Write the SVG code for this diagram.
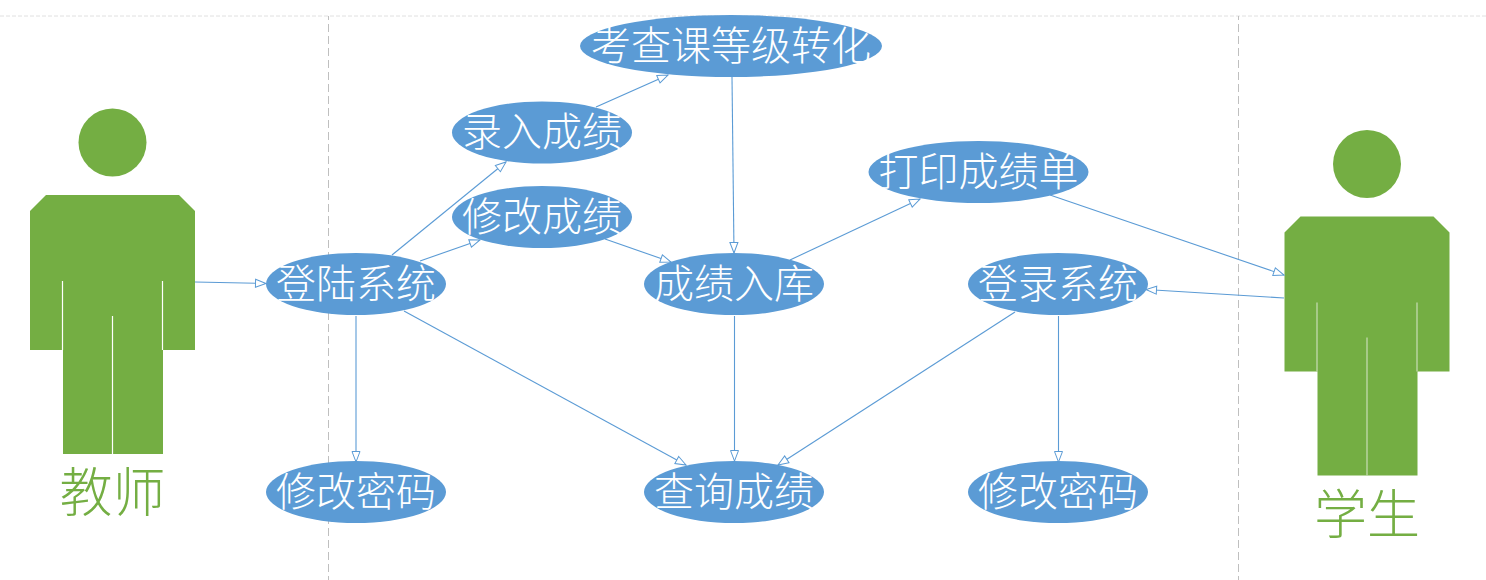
<svg xmlns="http://www.w3.org/2000/svg" width="1486" height="580" viewBox="0 0 1486 580">
<style>
.guide{fill:none;stroke:#bfbfbf;stroke-width:1;stroke-dasharray:8 4;stroke-dashoffset:4}
.top{fill:none;stroke:#e0e0e0;stroke-width:1;stroke-dasharray:4 2}
.c{fill:none;stroke:#5b9bd5;stroke-width:1.1;marker-end:url(#a)}
.uc{fill:#5b9bd5}
.ut{fill:#fff;font-family:"Noto Sans CJK SC",sans-serif;font-weight:300;font-size:40px;text-anchor:middle}
.p{fill:#74ae43}
.s{fill:none;stroke:#fff;stroke-width:1.2}
.s2{fill:none;stroke:#c9dcb6;stroke-width:1.2}
.pt{fill:#74ae43;font-family:"Noto Sans CJK SC",sans-serif;font-weight:300;font-size:53px;text-anchor:middle}
</style>
<defs>
<marker id="a" markerUnits="userSpaceOnUse" markerWidth="14" markerHeight="12" refX="11" refY="4.500" orient="auto" overflow="visible">
<path d="M0.500 0.500L11 4.500L0.500 8.500Z" fill="#fff" stroke="#5b9bd5" stroke-width="1"/>
</marker>
</defs>
<rect width="1486" height="580" fill="#fff"/>
<g id="guides">
<path class="top" d="M0 16H1486"/>
<path class="guide" d="M328.500 16V580"/>
<path class="guide" d="M1238.500 16V580"/>
</g>
<g id="teacher">
<circle class="p" cx="112.500" cy="142.500" r="34"/>
<path class="p" d="M46 195H179L195 211V350H163V454H63V350H30V211Z"/>
<path class="s" d="M62.500 281V350M162.500 281V350M112.500 316V454"/>
<text class="pt" x="112.500" y="512">教师</text>
</g>
<g id="student">
<circle class="p" cx="1367" cy="164" r="34"/>
<path class="p" d="M1300.500 216.500H1433.500L1449.500 232.500V371.500H1417.500V475.500H1317.500V371.500H1284.500V232.500Z"/>
<path class="s2" d="M1317 302.500V371.500M1417 302.500V371.500M1367 337.500V475.500"/>
<text class="pt" x="1367" y="534">学生</text>
</g>
<g id="connectors">
<path class="c" d="M195 282L266 283.500"/>
<path class="c" d="M392 255L506 162"/>
<path class="c" d="M420 261L480 240"/>
<path class="c" d="M596 107L668 75"/>
<path class="c" d="M605 239L671 262"/>
<path class="c" d="M732 77L734 253"/>
<path class="c" d="M790 260L920 199"/>
<path class="c" d="M1050 195L1284 275"/>
<path class="c" d="M1284 298L1146 289.500"/>
<path class="c" d="M356 316V462"/>
<path class="c" d="M404 311L686 465"/>
<path class="c" d="M734.500 316V461"/>
<path class="c" d="M1015 312L778 465"/>
<path class="c" d="M1058.500 316V462"/>
</g>
<g id="uc-exam"><ellipse class="uc" cx="731" cy="46" rx="151" ry="31"/><text class="ut" x="731" y="60">考查课等级转化</text></g>
<g id="uc-enter"><ellipse class="uc" cx="542" cy="132.500" rx="90" ry="31"/><text class="ut" x="542" y="146">录入成绩</text></g>
<g id="uc-edit"><ellipse class="uc" cx="542" cy="217" rx="90" ry="31"/><text class="ut" x="542" y="231">修改成绩</text></g>
<g id="uc-print"><ellipse class="uc" cx="978.500" cy="172" rx="110" ry="31"/><text class="ut" x="978.500" y="186">打印成绩单</text></g>
<g id="uc-login-t"><ellipse class="uc" cx="356" cy="284" rx="90" ry="31"/><text class="ut" x="356" y="298">登陆系统</text></g>
<g id="uc-store"><ellipse class="uc" cx="734" cy="284" rx="90" ry="31"/><text class="ut" x="734" y="298">成绩入库</text></g>
<g id="uc-login-s"><ellipse class="uc" cx="1058" cy="284" rx="90" ry="31"/><text class="ut" x="1058" y="298">登录系统</text></g>
<g id="uc-pw-t"><ellipse class="uc" cx="356" cy="492" rx="90" ry="31"/><text class="ut" x="356" y="506">修改密码</text></g>
<g id="uc-query"><ellipse class="uc" cx="734" cy="492" rx="90" ry="31"/><text class="ut" x="734" y="506">查询成绩</text></g>
<g id="uc-pw-s"><ellipse class="uc" cx="1058" cy="492" rx="90" ry="31"/><text class="ut" x="1058" y="506">修改密码</text></g>
</svg>
